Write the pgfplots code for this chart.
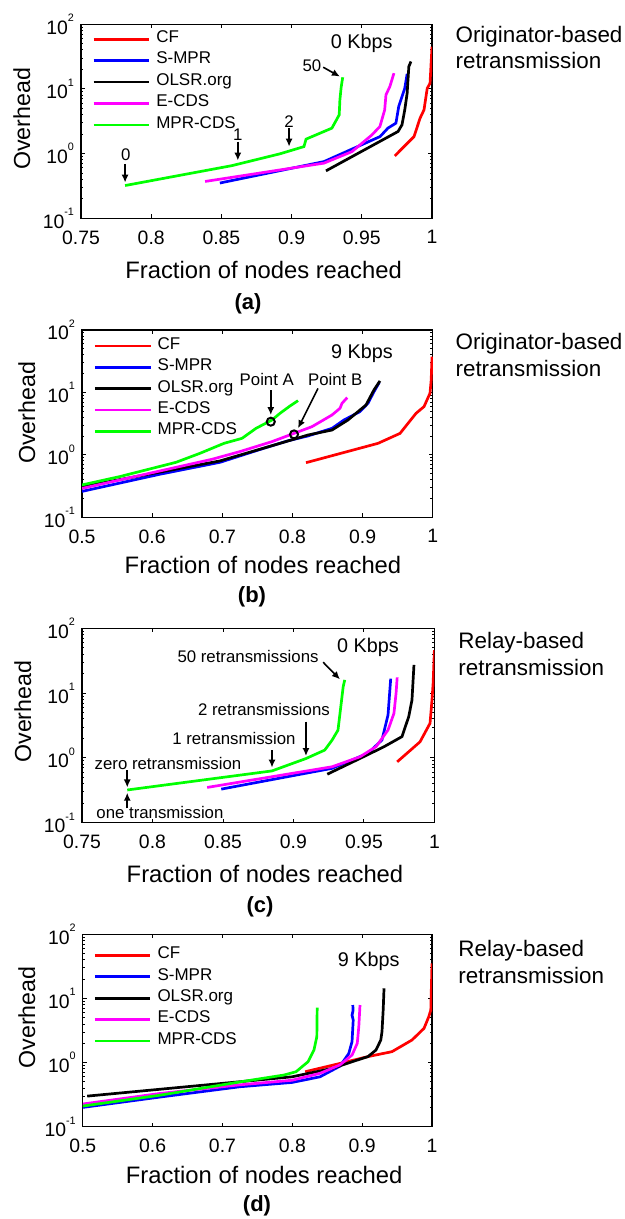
\documentclass[border=0pt]{standalone}
\usepackage{fontspec}
\setmainfont{Liberation Sans}
\newfontfamily\ylabfont{Liberation Sans}
\usepackage{pgfplots}
\pgfplotsset{compat=1.18}
\usetikzlibrary{arrows.meta}

\definecolor{cRed}{RGB}{255,0,0}
\definecolor{cBlue}{RGB}{0,0,255}
\definecolor{cMag}{RGB}{255,0,255}
\definecolor{cGreen}{RGB}{0,255,0}

\newcommand{\tenexp}[1]{10\raisebox{6.3pt}{\fontsize{5.4}{6}\selectfont #1}}

\tikzset{
  ann/.style={black, line width=0.8pt, -{Latex[length=4pt,width=3.6pt]}},
  annt/.style={font=\fontsize{8.4}{10}\selectfont, inner sep=0pt},
}

\pgfplotsset{
  oh/.style={
    scale only axis,
    ymin=0.1, ymax=100,
    ytick={0.1,1,10,100},
    yticklabels={\tenexp{-1},\tenexp{0},\tenexp{1},\tenexp{2}},
    minor ytick={0.2,0.3,0.4,0.5,0.6,0.7,0.8,0.9,2,3,4,5,6,7,8,9,20,30,40,50,60,70,80,90},
    tick align=inside,
    major tick length=2pt, minor tick length=1.2pt,
    every tick/.style={black, line width=0.45pt},
    axis line style={line width=0.65pt},
    ticklabel style={font=\fontsize{9.7}{11}\selectfont},
    xticklabel style={yshift=-2.6pt},
    clip mode=individual,
    legend image code/.code={\draw[##1] (0pt,0pt) -- (27.8pt,0pt);},
    legend cell align=left,
    legend style={draw=none, fill=none, at={(rel axis cs:0,1)}, anchor=north west,
      font=\fontsize{8.5}{10}\selectfont, inner sep=0pt, outer sep=0pt,
      row sep=0pt, column sep=2.9pt,
      nodes={inner sep=0pt, text height=7pt, text depth=3.7pt}},
  },
  xA/.style={xmin=0.75,xmax=1,xtick={0.75,0.8,0.85,0.9,0.95,1},xticklabels={0.75,0.8,0.85,0.9,0.95,1}},
  xB/.style={xmin=0.5,xmax=1,xtick={0.5,0.6,0.7,0.8,0.9,1},xticklabels={0.5,0.6,0.7,0.8,0.9,1}},
  cf/.style={cRed, line width=1.35pt},
  smpr/.style={cBlue, line width=1.35pt},
  olsr/.style={black, line width=1.35pt},
  ecds/.style={cMag, line width=1.35pt},
  mcds/.style={cGreen, line width=1.35pt},
}

\begin{document}
\begin{tikzpicture}
\path[use as bounding box] (0,0) rectangle (312.5pt,-609.5pt);

% ---------------- (a) ----------------
\begin{semilogyaxis}[oh, xA, at={(40.5pt,-109.1pt)}, anchor=south west, width=175.5pt, height=97pt,
  legend style={xshift=5.6pt, yshift=-2.2pt}]
\addplot[cf] coordinates {(0.9735,0.92) (0.9872,1.83) (0.9915,3.52) (0.9943,4.73) (0.9966,10.2) (0.9986,12.2) (1.0,45)};
\addlegendentry{CF}
\addplot[smpr] coordinates {(0.8489,0.35) (0.923,0.75) (0.963,1.83) (0.9686,2.47) (0.9743,2.95) (0.9763,5.33) (0.9806,10.2) (0.9823,17.1)};
\addlegendentry{S-MPR}
\addplot[olsr] coordinates {(0.9245,0.54) (0.9758,2.19) (0.9786,2.77) (0.9806,4.73) (0.9823,8.57) (0.9835,22.1) (0.985,26.5)};
\addlegendentry{OLSR.org}
\addplot[ecds] coordinates {(0.8384,0.37) (0.923,0.71) (0.943,1.07) (0.9572,1.94) (0.9629,2.62) (0.9663,4.73) (0.9672,8.07) (0.970,10.9) (0.9729,17.5)};
\addlegendentry{E-CDS}
\addplot[mcds] coordinates {(0.7814,0.32) (0.8575,0.65) (0.8917,0.99) (0.9088,1.28) (0.9103,1.67) (0.9287,2.47) (0.9339,3.96) (0.9344,6.76) (0.9353,10.6) (0.9364,15.1)};
\addlegendentry{MPR-CDS}
\node[font=\fontsize{9.9}{11}\selectfont] at (axis cs:0.950,50.8) {0 Kbps};
\node[annt] at (axis cs:0.7819,0.953) {0};
\draw[ann] (axis cs:0.7814,0.69) -- (axis cs:0.7814,0.356);
\node[annt] at (axis cs:0.8617,1.94) {1};
\draw[ann] (axis cs:0.8617,1.53) -- (axis cs:0.8617,0.78);
\node[annt] at (axis cs:0.8982,3.13) {2};
\draw[ann] (axis cs:0.8982,2.47) -- (axis cs:0.8982,1.28);
\node[annt] at (axis cs:0.9145,22.9) {50};
\draw[ann] (axis cs:0.9225,21.6) -- (axis cs:0.9344,15.5);
\end{semilogyaxis}
\node[rotate=90, anchor=base, font=\ylabfont\fontsize{11.6}{13}\selectfont] at (15pt,-59.5pt) {Overhead};
\node[anchor=base, font=\fontsize{11.9}{13}\selectfont] at (131.8pt,-139.15pt) {Fraction of nodes reached};
\node[anchor=base, font=\fontsize{11}{12}\selectfont\bfseries] at (124pt,-155pt) {(a)};
\node[anchor=base west, inner sep=0pt, font=\fontsize{11.2}{13}\selectfont] at (227.6pt,-21.35pt) {Originator-based};
\node[anchor=base west, inner sep=0pt, font=\fontsize{11.2}{13}\selectfont] at (227.6pt,-34.5pt) {retransmission};

% ---------------- (b) ----------------
\begin{semilogyaxis}[oh, xB, at={(41pt,-258.65pt)}, anchor=south west, width=175.4pt, height=93.65pt,
  legend style={xshift=5.8pt, yshift=-2.6pt}]
\addplot[cf] coordinates {(0.8193,0.75) (0.9219,1.53) (0.9533,2.21) (0.9761,4.63) (0.9875,5.93) (0.996,9.7) (0.9977,15.8) (0.9989,37.4)};
\addlegendentry{CF}
\addplot[smpr] coordinates {(0.5,0.26) (0.6112,0.49) (0.6967,0.76) (0.7537,1.22) (0.7936,1.68) (0.8221,2.01) (0.8563,2.66) (0.8734,3.62) (0.8962,4.93) (0.9076,6.7) (0.9162,10.3) (0.9236,14.4)};
\addlegendentry{S-MPR}
\addplot[olsr] coordinates {(0.5,0.31) (0.6967,0.80) (0.7822,1.53) (0.8221,2.08) (0.8563,2.5) (0.8791,3.62) (0.9048,6.3) (0.9162,11) (0.9247,15.3)};
\addlegendentry{OLSR.org}
\addplot[ecds] coordinates {(0.5,0.29) (0.6853,0.85) (0.7252,1.13) (0.7708,1.63) (0.8022,2.21) (0.8278,2.83) (0.8563,4.35) (0.8677,5.57) (0.8706,6.7) (0.878,8.26)};
\addlegendentry{E-CDS}
\addplot[mcds] coordinates {(0.5,0.33) (0.5542,0.45) (0.634,0.76) (0.6682,1.06) (0.7024,1.53) (0.7281,1.84) (0.748,2.66) (0.7708,3.62) (0.7822,4.63) (0.7965,6.07) (0.8079,7.39)};
\addlegendentry{MPR-CDS}
\addplot[forget plot, only marks, mark=o, mark size=2pt, black, line width=1pt] coordinates {(0.7691,3.4) (0.8022,2.13)};
\node[font=\fontsize{9.9}{11}\selectfont] at (axis cs:0.899,42.4) {9 Kbps};
\node[annt] at (axis cs:0.7634,16.2) {Point A};
\draw[ann] (axis cs:0.7691,10.9) -- (axis cs:0.7691,4.35);
\node[annt] at (axis cs:0.8609,16.2) {Point B};
\draw[ann] (axis cs:0.8364,11.6) -- (axis cs:0.8079,2.67);
\end{semilogyaxis}
\node[rotate=90, anchor=base, font=\ylabfont\fontsize{11.6}{13}\selectfont] at (17.6pt,-206.5pt) {Overhead};
\node[anchor=base, font=\fontsize{11.9}{13}\selectfont] at (131.5pt,-286.65pt) {Fraction of nodes reached};
\node[anchor=base, font=\fontsize{11}{12}\selectfont\bfseries] at (126pt,-301pt) {(b)};
\node[anchor=base west, inner sep=0pt, font=\fontsize{11.2}{13}\selectfont] at (227.6pt,-175pt) {Originator-based};
\node[anchor=base west, inner sep=0pt, font=\fontsize{11.2}{13}\selectfont] at (227.6pt,-188.35pt) {retransmission};

% ---------------- (c) ----------------
\begin{semilogyaxis}[oh, xA, at={(41pt,-411.35pt)}, anchor=south west, width=176.2pt, height=97.2pt]
\addplot[cf] coordinates {(0.9736,0.87) (0.9898,1.77) (0.9969,3.42) (0.9983,7.84) (0.9991,14.2) (1.0,46)};
\addplot[smpr] coordinates {(0.8488,0.33) (0.9274,0.69) (0.9529,1.18) (0.9628,1.89) (0.9671,4.6) (0.969,16.7)};
\addplot[olsr] coordinates {(0.924,0.56) (0.9472,0.98) (0.9643,1.49) (0.977,2.13) (0.9818,4.34) (0.9841,7.84) (0.9855,27.2)};
\addplot[ecds] coordinates {(0.8388,0.35) (0.9274,0.73) (0.9472,1.04) (0.9586,1.49) (0.9671,2.69) (0.9713,4.87) (0.9728,9.9) (0.9736,17.5)};
\addplot[mcds] coordinates {(0.7821,0.32) (0.8848,0.63) (0.909,0.98) (0.9222,1.32) (0.9274,1.88) (0.9316,2.68) (0.9336,6.17) (0.9353,12.6) (0.9364,16)};
\node[font=\fontsize{9.9}{11}\selectfont] at (axis cs:0.9529,50.4) {0 Kbps};
\node[annt] at (axis cs:0.8678,36.6) {50 retransmissions};
\draw[ann] (axis cs:0.9211,29.9) -- (axis cs:0.9330,16.3);
\node[annt] at (axis cs:0.8791,5.62) {2 retransmissions};
\draw[ann] (axis cs:0.9089,3.62) -- (axis cs:0.9089,1.07);
\node[annt] at (axis cs:0.8578,2.0) {1 retransmission};
\draw[ann] (axis cs:0.8848,1.32) -- (axis cs:0.8848,0.71);
\node[annt] at (axis cs:0.8110,0.824) {zero retransmission};
\draw[ann] (axis cs:0.7821,0.65) -- (axis cs:0.7821,0.35);
\node[annt] at (axis cs:0.8053,0.1445) {one transmission};
\draw[ann] (axis cs:0.7821,0.166) -- (axis cs:0.7821,0.29);
\end{semilogyaxis}
\node[rotate=90, anchor=base, font=\ylabfont\fontsize{11.6}{13}\selectfont] at (15.6pt,-355.8pt) {Overhead};
\node[anchor=base, font=\fontsize{11.9}{13}\selectfont] at (132.5pt,-441.35pt) {Fraction of nodes reached};
\node[anchor=base, font=\fontsize{11}{12}\selectfont\bfseries] at (130pt,-456pt) {(c)};
\node[anchor=base west, inner sep=0pt, font=\fontsize{11.2}{13}\selectfont] at (229pt,-324.15pt) {Relay-based};
\node[anchor=base west, inner sep=0pt, font=\fontsize{11.2}{13}\selectfont] at (229pt,-337.5pt) {retransmission};

% ---------------- (d) ----------------
\begin{semilogyaxis}[oh, xB, at={(41.4pt,-563.35pt)}, anchor=south west, width=174.6pt, height=96.2pt,
  legend style={xshift=5.3pt, yshift=-5.2pt}]
\addplot[cf] coordinates {(0.8184,0.72) (0.8683,0.97) (0.9084,1.24) (0.9427,1.48) (0.9714,2.25) (0.9886,3.42) (0.9954,5.2) (0.9983,6.6) (0.9989,12) (1.0,35.3)};
\addlegendentry{CF}
\addplot[smpr] coordinates {(0.5,0.2) (0.6105,0.29) (0.7251,0.42) (0.7996,0.49) (0.8396,0.6) (0.8683,0.88) (0.8809,1.39) (0.8855,2.12) (0.8872,4.61) (0.8855,5.5) (0.887,6.5) (0.8866,7.9)};
\addlegendentry{S-MPR}
\addplot[olsr] coordinates {(0.5063,0.30) (0.7996,0.6) (0.8568,0.81) (0.8855,1.03) (0.9084,1.24) (0.9198,1.57) (0.9267,2.25) (0.9284,3.03) (0.9301,6.6) (0.9313,14.4)};
\addlegendentry{OLSR.org}
\addplot[ecds] coordinates {(0.5,0.226) (0.6105,0.33) (0.7251,0.45) (0.7996,0.53) (0.8396,0.68) (0.8683,0.92) (0.8855,1.31) (0.893,2.0) (0.8952,3.63) (0.8969,7.9)};
\addlegendentry{E-CDS}
\addplot[mcds] coordinates {(0.5,0.21) (0.6105,0.31) (0.7251,0.5) (0.7881,0.64) (0.8053,0.72) (0.8225,1.03) (0.831,1.57) (0.8351,2.54) (0.8356,7.2)};
\addlegendentry{MPR-CDS}
\node[font=\fontsize{9.9}{11}\selectfont] at (axis cs:0.9095,37.5) {9 Kbps};
\end{semilogyaxis}
\node[rotate=90, anchor=base, font=\ylabfont\fontsize{11.6}{13}\selectfont] at (17.6pt,-508.75pt) {Overhead};
\node[anchor=base, font=\fontsize{11.9}{13}\selectfont] at (132.1pt,-591.65pt) {Fraction of nodes reached};
\node[anchor=base, font=\fontsize{11}{12}\selectfont\bfseries] at (128.5pt,-605.9pt) {(d)};
\node[anchor=base west, inner sep=0pt, font=\fontsize{11.2}{13}\selectfont] at (229pt,-478pt) {Relay-based};
\node[anchor=base west, inner sep=0pt, font=\fontsize{11.2}{13}\selectfont] at (229pt,-491.65pt) {retransmission};
\end{tikzpicture}
\end{document}
